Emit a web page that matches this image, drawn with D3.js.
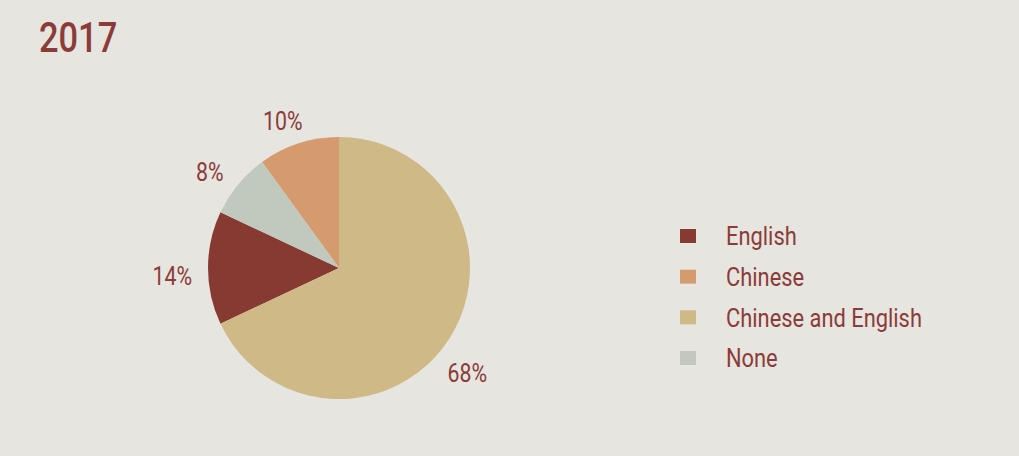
<!DOCTYPE html>
<html>
<head>
<meta charset="utf-8">
<script src="https://cdn.jsdelivr.net/npm/d3@7"></script>
<style>
  html, body { margin: 0; padding: 0; background: #e6e5e0; }
  svg { display: block; }
  text { font-family: "Roboto", "DejaVu Sans Condensed", sans-serif; fill: #8b3b38; }
</style>
</head>
<body>
<svg id="chart" width="1019" height="456"></svg>
<script>
// Language share of respondents, 2017
const title = "2017";
const categories = ["English", "Chinese", "Chinese and English", "None"];
const shares = [14, 10, 68, 8];
const colors = ["#873a31", "#d59b6e", "#cfb986", "#c1c9be"];
// Slice order around the pie, clockwise from twelve o'clock
const sliceOrder = ["Chinese and English", "English", "None", "Chinese"];

const svg = d3.select("#chart");
const W = 1019, H = 456;
const narrow = 0.82; // horizontal squeeze giving a condensed face

svg.append("rect").attr("width", W).attr("height", H).attr("fill", "#e6e5e0");

// Draws text at (x, y) squeezed horizontally about its anchor point
function condensed(sel, x, y, k = narrow) {
  return sel.attr("transform", `translate(${x},${y}) scale(${k},1)`);
}

svg.append("text")
  .call(condensed, 39, 52, 0.8)
  .attr("font-size", 43)
  .attr("font-weight", 500)
  .text(title);

const data = categories.map((c, i) => ({ name: c, value: shares[i], color: colors[i] }));

const cx = 339, cy = 268, R = 131;
const pie = d3.pie()
  .value(d => d.value)
  .sort((a, b) => sliceOrder.indexOf(a.name) - sliceOrder.indexOf(b.name));
const arcs = pie(data);
const arc = d3.arc().innerRadius(0).outerRadius(R);

// Percentage labels sit just outside the rim; small per-slice angle/radius tweaks
const labelTweak = {
  "Chinese": { da: -3, r: 157 },
  "None": { da: -3, r: 161 },
  "English": { da: -3, r: 167 },
  "Chinese and English": { da: 7, r: 166 }
};
function labelPos(d) {
  const t = labelTweak[d.data.name];
  const a = (d.startAngle + d.endAngle) / 2 + t.da * Math.PI / 180;
  return [Math.sin(a) * t.r, -Math.cos(a) * t.r];
}

const g = svg.append("g").attr("transform", `translate(${cx},${cy})`);
g.selectAll("path.slice")
  .data(arcs)
  .join("path")
  .attr("class", "slice")
  .attr("d", arc)
  .attr("fill", d => d.data.color);

g.selectAll("text.pct")
  .data(arcs)
  .join("text")
  .attr("class", "pct")
  .each(function(d) { const p = labelPos(d); condensed(d3.select(this), p[0], p[1]); })
  .attr("text-anchor", "middle")
  .attr("dominant-baseline", "central")
  .attr("font-size", 26)
  .text(d => d.data.value + "%");

// Legend
const legend = svg.append("g").attr("transform", "translate(680,236)");
const rowY = d3.scalePoint().domain(categories).range([0, 122]);
const rows = legend.selectAll("g.row")
  .data(data)
  .join("g")
  .attr("class", "row")
  .attr("transform", d => `translate(0,${rowY(d.name)})`);
rows.append("rect")
  .attr("x", 0).attr("y", -7)
  .attr("width", 16).attr("height", 14)
  .attr("fill", d => d.color);
rows.append("text")
  .call(condensed, 46, 0, 0.825)
  .attr("dominant-baseline", "central")
  .attr("font-size", 26.5)
  .text(d => d.name);
</script>
</body>
</html>
